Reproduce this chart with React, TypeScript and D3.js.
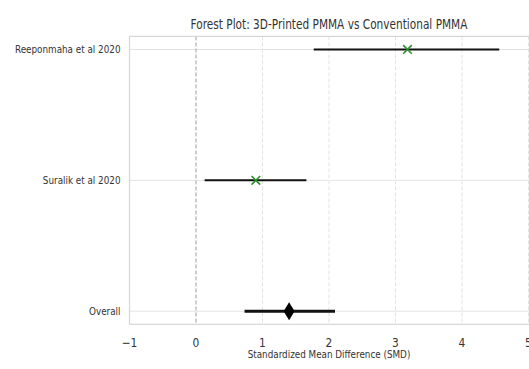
import React, { useEffect, useRef } from "react";
import * as d3 from "d3";

const studies = ["Reeponmaha et al 2020", "Suralik et al 2020", "Overall"];
const smd = [3.18, 0.9, 1.4];
const lower = [1.77, 0.13, 0.73];
const upper = [4.56, 1.66, 2.09];
const xTicks = [-1, 0, 1, 2, 3, 4, 5];

const W = 529;
const H = 369;
const SQUEEZE = 0.8;

const App = () => {
  const ref = useRef<SVGSVGElement | null>(null);

  useEffect(() => {
    document.body.style.margin = "0";
    const svg = d3.select(ref.current);
    svg.selectAll("*").remove();

    const x = d3.scaleLinear().domain([-1, 5]).range([129.5, 528.5]);
    const y = d3.scaleLinear().domain([-0.1, 2.1]).range([36.4, 324.3]);
    const font = "'DejaVu Sans', sans-serif";
    const txt = "#333";

    // grid
    svg
      .selectAll(".vgrid")
      .data(xTicks.filter((t) => t !== 0))
      .join("line")
      .attr("x1", (d) => x(d))
      .attr("x2", (d) => x(d))
      .attr("y1", y(-0.1))
      .attr("y2", y(2.1))
      .attr("stroke", "#e3e3e3")
      .attr("stroke-dasharray", "4,2");

    svg
      .selectAll(".hgrid")
      .data(studies)
      .join("line")
      .attr("x1", x(-1))
      .attr("x2", x(5))
      .attr("y1", (d, i) => y(i))
      .attr("y2", (d, i) => y(i))
      .attr("stroke", "#e3e3e3");

    // zero line
    svg
      .append("line")
      .attr("x1", x(0))
      .attr("x2", x(0))
      .attr("y1", y(-0.1))
      .attr("y2", y(2.1))
      .attr("stroke", "#b0b0b0")
      .attr("stroke-width", 1.2)
      .attr("stroke-dasharray", "4,2");

    // spines
    svg
      .append("rect")
      .attr("x", x(-1))
      .attr("y", y(-0.1))
      .attr("width", x(5) - x(-1) + 2)
      .attr("height", y(2.1) - y(-0.1))
      .attr("fill", "none")
      .attr("stroke", "#d6d6d6")
      .attr("stroke-width", 1.2);

    // error bars
    svg
      .selectAll(".ci")
      .data(studies)
      .join("line")
      .attr("x1", (d, i) => x(lower[i]))
      .attr("x2", (d, i) => x(upper[i]))
      .attr("y1", (d, i) => y(i))
      .attr("y2", (d, i) => y(i))
      .attr("stroke", "#111")
      .attr("stroke-width", (d, i) => (i === 2 ? 3 : 2));

    // study markers
    const xs = d3.symbol().type(d3.symbolX).size(50);
    svg
      .selectAll(".mk")
      .data(studies.slice(0, 2))
      .join("path")
      .attr("d", xs)
      .attr("transform", (d, i) => `translate(${x(smd[i])},${y(i)})`)
      .attr("fill", "none")
      .attr("stroke", "#2f8f2f")
      .attr("stroke-width", 1.6);

    // overall diamond
    const oi = 2;
    const cx = x(smd[oi]);
    const cy = y(oi);
    svg
      .append("path")
      .attr("d", `M${cx},${cy - 9}L${cx + 5.5},${cy}L${cx},${cy + 9}L${cx - 5.5},${cy}Z`)
      .attr("fill", "#000");

    const squeeze = (k: number) => (sel: any) =>
      sel.each(function (this: SVGTextElement) {
        const w = this.getComputedTextLength();
        this.setAttribute("textLength", String(w * k));
        this.setAttribute("lengthAdjust", "spacingAndGlyphs");
      });

    // y labels
    svg
      .selectAll(".yl")
      .data(studies)
      .join("text")
      .attr("x", 120.5)
      .attr("y", (d, i) => y(i))
      .attr("dy", "0.35em")
      .attr("text-anchor", "end")
      .attr("font-family", font)
      .attr("font-size", 11)
      .attr("fill", txt)
      .text((d) => d)
      .call(squeeze(SQUEEZE));

    // x labels
    svg
      .selectAll(".xl")
      .data(xTicks)
      .join("text")
      .attr("x", (d) => x(d))
      .attr("y", 346.5)
      .attr("text-anchor", "middle")
      .attr("font-family", font)
      .attr("font-size", 12.5)
      .attr("fill", txt)
      .text((d) => (d < 0 ? "\u2212" + Math.abs(d) : String(d)))
      .call(squeeze(0.85));

    svg
      .append("text")
      .attr("x", x(2))
      .attr("y", 358)
      .attr("text-anchor", "middle")
      .attr("font-family", font)
      .attr("font-size", 11)
      .attr("fill", txt)
      .text("Standardized Mean Difference (SMD)")
      .call(squeeze(SQUEEZE));

    svg
      .append("text")
      .attr("x", x(2))
      .attr("y", 28.5)
      .attr("text-anchor", "middle")
      .attr("font-family", font)
      .attr("font-size", 13.2)
      .attr("fill", txt)
      .text("Forest Plot: 3D-Printed PMMA vs Conventional PMMA")
      .call(squeeze(SQUEEZE));
  });

  return <svg ref={ref} width={W} height={H} style={{ display: "block", background: "#fff" }} />;
};

export default App;
